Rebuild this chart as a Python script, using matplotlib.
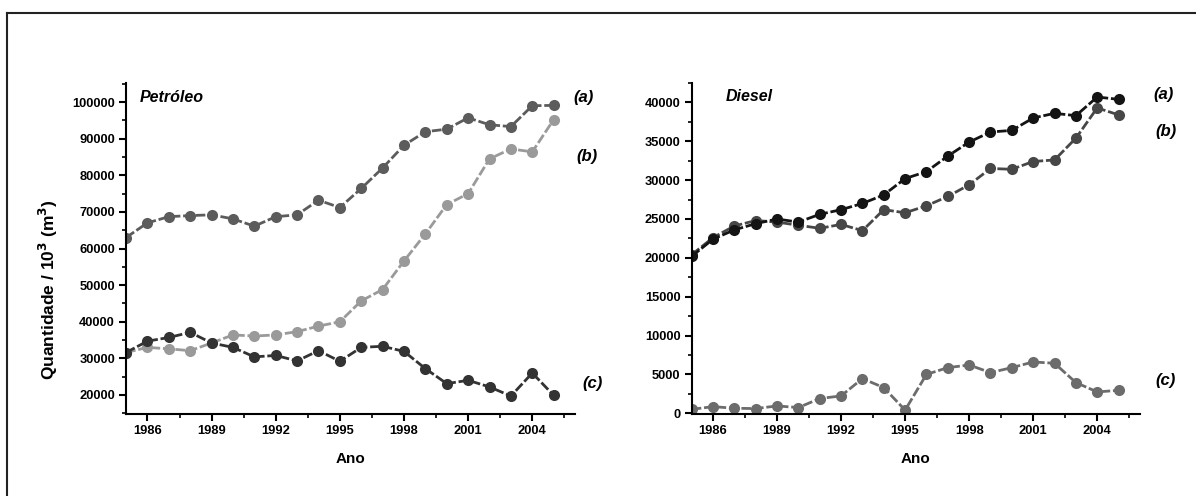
import matplotlib.pyplot as plt
from matplotlib.lines import Line2D
from matplotlib.ticker import MultipleLocator

plt.rcParams['font.family'] = ['Liberation Sans', 'DejaVu Sans']
plt.rcParams['font.weight'] = 'bold'

anos = list(range(1985, 2006))

# Petróleo (10^3 m^3)
petroleo_a = [63000, 67000, 68700, 69000, 69200, 68100, 66100, 68700, 69200, 73200,
              71200, 76400, 82000, 88200, 91900, 92600, 95700, 93800, 93300, 99000, 99100]
petroleo_b = [31600, 33000, 32600, 32100, 34200, 36400, 36100, 36400, 37300, 38800,
              40000, 45700, 48800, 56600, 64000, 72000, 75000, 84500, 87200, 86400, 95200]
petroleo_c = [31600, 34700, 35700, 37100, 34200, 33000, 30400, 30800, 29300, 32100,
              29200, 33000, 33300, 31900, 27200, 23100, 24000, 22200, 19700, 26000, 19900]

# Diesel (10^3 m^3)
diesel_a = [20200, 22400, 23600, 24400, 25000, 24600, 25600, 26200, 27000, 28100,
            30200, 31100, 33100, 34900, 36200, 36400, 38000, 38600, 38300, 40700, 40400]
diesel_b = [20400, 22600, 24100, 24800, 24600, 24200, 23800, 24300, 23500, 26200,
            25800, 26700, 27900, 29400, 31500, 31400, 32400, 32600, 35400, 39300, 38400]
diesel_c = [500, 850, 640, 600, 940, 730, 1890, 2230, 4460, 3300,
            400, 5000, 5870, 6210, 5230, 5870, 6600, 6430, 3950, 2740, 2950]

fig = plt.figure(figsize=(11.96, 4.96), dpi=100)

# moldura externa (só topo e esquerda aparecem)
fig.add_artist(Line2D([7 / 1196, 7 / 1196], [-0.05, 1 - 13 / 496], color='#222222', lw=1.5))
fig.add_artist(Line2D([7 / 1196, 1.05], [1 - 13 / 496, 1 - 13 / 496], color='#222222', lw=1.5))

ax1 = fig.add_axes([0.1054, 0.1653, 0.3754, 0.6673])
ax2 = fig.add_axes([0.5783, 0.1653, 0.3748, 0.6673])


def serie(ax, y, cor):
    ax.plot(anos, y, color=cor, lw=2, ls=(0, (3.5, 1)), marker='o', ms=8,
            markeredgewidth=0, dash_capstyle='butt')


serie(ax1, petroleo_a, '#5c5c5c')
serie(ax1, petroleo_b, '#9a9a9a')
serie(ax1, petroleo_c, '#333333')

serie(ax2, diesel_b, '#474747')
serie(ax2, diesel_a, '#141414')
serie(ax2, diesel_c, '#6c6c6c')

ax1.set_ylim(14800, 105200)
ax1.yaxis.set_major_locator(MultipleLocator(10000))
ax1.yaxis.set_minor_locator(MultipleLocator(5000))
ax2.set_ylim(-100, 42500)
ax2.yaxis.set_major_locator(MultipleLocator(5000))
ax2.yaxis.set_minor_locator(MultipleLocator(2500))

for ax in (ax1, ax2):
    ax.set_xlim(1985, 2006)
    ax.set_xticks([1986, 1989, 1992, 1995, 1998, 2001, 2004])
    ax.xaxis.set_minor_locator(MultipleLocator(1.5))
    for s in ('top', 'right'):
        ax.spines[s].set_visible(False)
    for s in ('left', 'bottom'):
        ax.spines[s].set_linewidth(1.5)
    ax.tick_params(which='major', direction='out', length=5, width=1.5, labelsize=9.3, pad=3)
    ax.tick_params(which='minor', direction='out', length=3, width=1.2)
    ax.set_xlabel('Ano', fontsize=11, fontweight='bold', labelpad=11)
    for lbl in ax.get_xticklabels() + ax.get_yticklabels():
        lbl.set_fontweight('bold')

ax1.set_ylabel('Quantidade / 10$^\\mathbf{3}$ (m$^\\mathbf{3}$)', fontsize=12.5, fontweight='bold')
ax1.yaxis.set_label_coords(-0.147, 0.375)

ax1.text(0.03, 0.955, 'Petróleo', transform=ax1.transAxes, fontsize=11.5,
         fontweight='bold', style='italic', va='center')
ax2.text(0.077, 0.958, 'Diesel', transform=ax2.transAxes, fontsize=11.5,
         fontweight='bold', style='italic', va='center')

for ax, pos in ((ax1, [(0.9955, 0.955, '(a)'), (1.004, 0.779, '(b)'), (1.0156, 0.091, '(c)')]),
                (ax2, [(1.029, 0.964, '(a)'), (1.0335, 0.853, '(b)'), (1.0335, 0.1006, '(c)')])):
    for x, y, t in pos:
        ax.text(x, y, t, transform=ax.transAxes, fontsize=12, fontweight='bold',
                style='italic', va='center', clip_on=False)

fig.savefig('out.png', dpi=100)
